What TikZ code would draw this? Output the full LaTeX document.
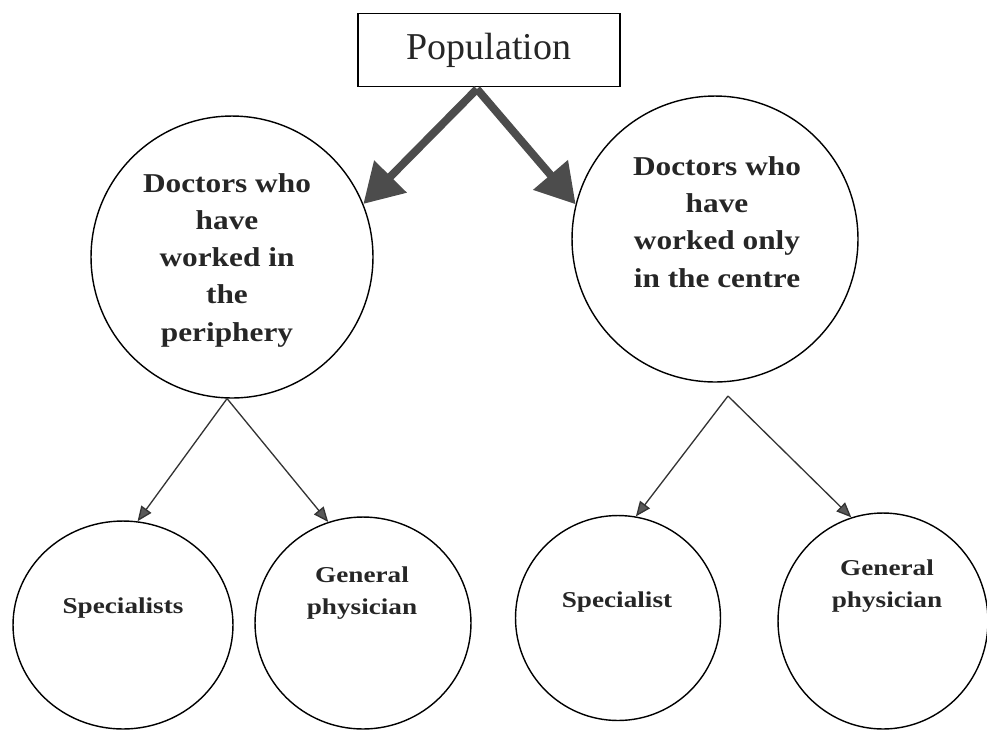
\documentclass[tikz,border=0pt]{standalone}
\usepackage{fontspec}
\setmainfont{Liberation Serif}
\newfontfamily\circfont{Liberation Serif}[FakeStretch=1.15]
\newfontfamily\leaffont{Liberation Serif}[FakeStretch=1.2]
\usetikzlibrary{arrows.meta,shapes.geometric}
\begin{document}
\begin{tikzpicture}[x=0.02cm, y=-0.02cm,
    box/.style={draw, line width=1pt, minimum width=5.24cm, minimum height=1.46cm,
      text=black!85, font=\fontsize{21.6}{26}\selectfont},
    bigring/.style={draw, circle, line width=0.8pt},
    leaf/.style={draw, ellipse, line width=0.8pt},
    bigtext/.style={align=center, text=black!85, font=\circfont\bfseries\fontsize{15.5}{21.2}\selectfont},
    leaftext/.style={align=center, text=black!85, font=\leaffont\bfseries\fontsize{12.9}{18.2}\selectfont},
    fat/.style={line width=4.5pt, draw=black!70, -{Triangle[length=22pt, width=25pt, fill=black!70]}},
    thin/.style={line width=0.75pt, draw=black!80, -{Triangle[length=8.5pt, width=7pt, fill=black!65]}}]
    \useasboundingbox (0,0) rectangle (987,731);
    % top box
    \node [box] (pop) at (489,50) {Population};
    \coordinate (split) at (477,89);
    % first level
    \node [bigring, minimum size=5.64cm] (peri) at (232,257) {};
    \node [bigring, minimum size=5.72cm] (centre) at (715,239) {};
    \node [bigtext] (peritext) at (227,260) {Doctors who\\have\\worked in\\the\\periphery};
    \node [bigtext] (centretext) at (717,222) {Doctors who\\have\\worked only\\in the centre};
    \draw [fat] (split) -- (peri.22);
    \draw [fat] (split) -- (centre.166);
    % second level
    \node [leaf, minimum width=4.4cm, minimum height=4.16cm] (spec1) at (123,625) {};
    \node [leaf, minimum width=4.32cm, minimum height=4.24cm] (gp1) at (363,623) {};
    \node [leaf, minimum width=4.1cm, minimum height=4.1cm] (spec2) at (618,618) {};
    \node [leaf, minimum width=4.2cm, minimum height=4.32cm] (gp2) at (883,621) {};
    \node [leaftext] (spec1text) at (123,608) {Specialists};
    \node [leaftext] (gp1text) at (362,593) {General\\physician};
    \node [leaftext] (spec2text) at (617,602) {Specialist};
    \node [leaftext] (gp2text) at (887,586) {General\\physician};
    \coordinate (rsplit) at (728,396);
    \draw [thin] (peri.268) -- (spec1.82);
    \draw [thin] (peri.268) -- (gp1.109);
    \draw [thin] (rsplit) -- (spec2.80);
    \draw [thin] (rsplit) -- (gp2.107);
\end{tikzpicture}
\end{document}
